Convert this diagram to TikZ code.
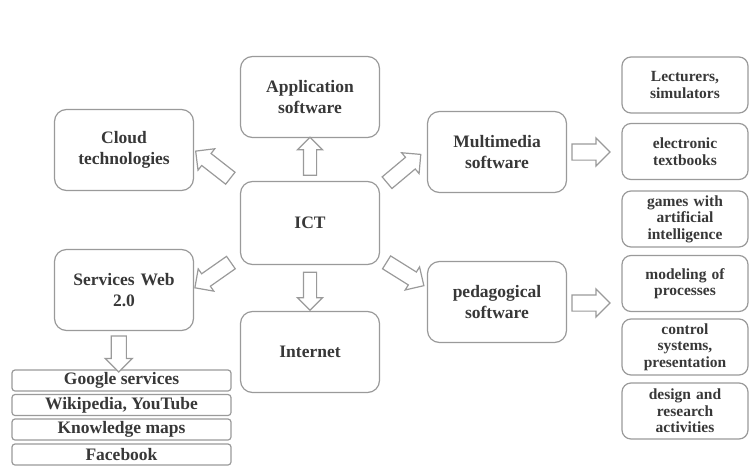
\documentclass[tikz,border=0pt]{standalone}
\usepackage{fontspec}
\setmainfont{Liberation Serif}
\usetikzlibrary{shapes.arrows,calc}
\definecolor{edge}{HTML}{9A9A9A}
\definecolor{ink}{HTML}{383838}
\tikzset{
  box/.style={draw=edge, line width=1.2pt, rounded corners=12pt, align=center,
    text=ink, font=\bfseries\fontsize{17.5}{21}\selectfont, inner sep=2pt},
  bigbox/.style={box, minimum width=139pt, minimum height=81pt, text width=132pt},
  sidebox/.style={box, minimum width=126pt, minimum height=56pt, text width=120pt,
    rounded corners=9pt, font=\bfseries\fontsize{15.5}{16.5}\selectfont},
  listbox/.style={draw=edge, line width=1.2pt, rounded corners=3pt, text=ink,
    minimum width=219pt, minimum height=21pt, inner sep=0pt,
    font=\bfseries\fontsize{17.5}{19}\selectfont},
  barrow/.style={single arrow, draw=edge, line width=1.2pt, fill=white,
    single arrow head indent=0pt, inner sep=0pt, inner ysep=#1, text width=0pt,
    single arrow head extend=6pt},
  barrow/.default=6pt
}
\begin{document}
\begin{tikzpicture}[x=1pt,y=-1pt]
\useasboundingbox (0,0) rectangle (755,474);
% main boxes
\node[bigbox] (app) at (310,97) {Application\\software};
\node[bigbox] (cloud) at (124,150) {Cloud\\technologies};
\node[bigbox] (multi) at (497,152) {Multimedia\\software};
\node[bigbox, minimum height=83pt] (ict) at (310,223) {ICT};
\node[bigbox] (web) at (124,290) {Services Web\\2.0};
\node[bigbox] (ped) at (497,302) {pedagogical\\software};
\node[bigbox] (net) at (310,352) {Internet};
% right column
\node[sidebox] (r1) at (685,85) {Lecturers,\\simulators};
\node[sidebox] (r2) at (685,151.5) {electronic\\textbooks};
\node[sidebox] (r3) at (685,219) {games with\\artificial\\intelligence};
\node[sidebox] (r4) at (685,283.5) {modeling of\\processes};
\node[sidebox] (r5) at (685,347) {control\\systems,\\presentation};
\node[sidebox] (r6) at (685,411) {design and\\research\\activities};
% bottom list
\node[listbox] (l1) at (121.5,380.5) {Google services};
\node[listbox] (l2) at (121.5,405) {Wikipedia, YouTube};
\node[listbox] (l3) at (121.5,429.5) {Knowledge maps};
\node[listbox] (l4) at (121.5,454.5) {Facebook};
% block arrows
\node[barrow, rotate=90, minimum height=38pt] (aup) at ($(ict.north)!0.5!(app.south)$) {};
\node[barrow, rotate=-90, minimum height=38pt] (adown) at ($(ict.south)!0.5!(net.north)$) {};
\node[barrow=7pt, rotate=142, minimum height=44pt] (acloud) at (216,167) {};
\node[barrow=7pt, rotate=40, minimum height=44pt] (amulti) at (401,171) {};
\node[barrow=7pt, rotate=-145, minimum height=44pt] (aweb) at (216,273) {};
\node[barrow=7pt, rotate=-32, minimum height=44pt] (aped) at (402,272) {};
\node[barrow=7.5pt, minimum height=38pt] (amr) at (587,152) {};
\node[barrow=7.5pt, minimum height=38pt] (apr) at (587,303) {};
\node[barrow=7pt, rotate=-90, minimum height=36pt] (awl) at ($(web.south)!0.5!(l1.north)+(-4,0)$) {};
\end{tikzpicture}
\end{document}
